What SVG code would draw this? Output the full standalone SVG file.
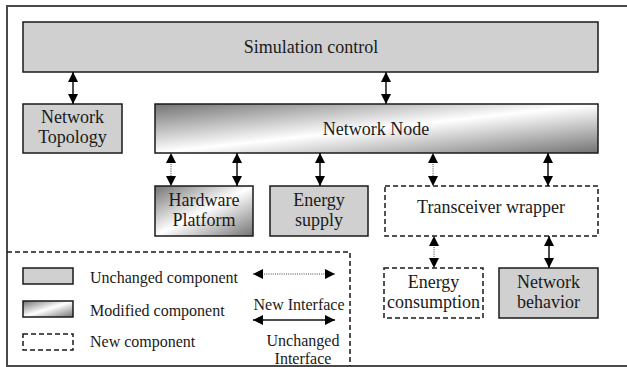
<svg xmlns="http://www.w3.org/2000/svg" width="627" height="367" viewBox="0 0 627 367">
<style>
  text { font-family: 'Liberation Serif', 'Times New Roman', 'DejaVu Serif', serif; font-size: 18px; fill: #1a1a1a; text-anchor: middle; }
  .leg { font-size: 16px; text-anchor: start; }
  .legc { font-size: 16px; }
  .unch { fill: #d0d0d0; stroke: #1a1a1a; stroke-width: 1.5; }
  .mod { fill: url(#grad); stroke: #1a1a1a; stroke-width: 1.5; }
  .newc { fill: #ffffff; stroke: #1a1a1a; stroke-width: 1.5; stroke-dasharray: 5 3; }
  .solid { stroke: #111; stroke-width: 1.5; fill: none; marker-start: url(#ah); marker-end: url(#ah); }
  .dotted { stroke: #444; stroke-width: 1; stroke-dasharray: 1 1.2; fill: none; marker-start: url(#ah); marker-end: url(#ah); }
  .frame { stroke: #4a4a4a; stroke-width: 2; fill: none; }
  .legframe { stroke: #1a1a1a; stroke-width: 1.5; fill: none; stroke-dasharray: 5 3; }
</style>
<defs>
  <linearGradient id="grad" x1="0" y1="0" x2="1" y2="1">
    <stop offset="0" stop-color="#737373"/>
    <stop offset="0.5" stop-color="#ffffff"/>
    <stop offset="1" stop-color="#737373"/>
  </linearGradient>
  <marker id="ah" viewBox="0 0 10 10" refX="10" refY="5" markerWidth="10" markerHeight="10" markerUnits="userSpaceOnUse" orient="auto-start-reverse">
    <path d="M0,0 L10,5 L0,10 Z" fill="#000"/>
  </marker>
</defs>

<!-- outer frame -->
<path class="frame" d="M7,367 L7,6 L627,6 M7,366 L627,366"/>

<g id="simulation-control">
  <rect class="unch" x="23" y="22" width="575" height="50"/>
  <text x="311" y="53" font-family="Liberation Serif, serif">Simulation control</text>
</g>
<g id="network-topology">
  <rect class="unch" x="23" y="104" width="99" height="49"/>
  <text x="72.5" y="123" font-family="Liberation Serif, serif">Network</text>
  <text x="72.5" y="143" font-family="Liberation Serif, serif">Topology</text>
</g>
<g id="network-node">
  <rect class="mod" x="155" y="104" width="443" height="49"/>
  <text x="376" y="135" font-family="Liberation Serif, serif">Network Node</text>
</g>
<g id="hardware-platform">
  <rect class="mod" x="155" y="186" width="98" height="50"/>
  <text x="204" y="206" font-family="Liberation Serif, serif">Hardware</text>
  <text x="204" y="226" font-family="Liberation Serif, serif">Platform</text>
</g>
<g id="energy-supply">
  <rect class="unch" x="270" y="186" width="98" height="50"/>
  <text x="319" y="206" font-family="Liberation Serif, serif">Energy</text>
  <text x="319" y="226" font-family="Liberation Serif, serif">supply</text>
</g>
<g id="transceiver-wrapper">
  <rect class="newc" x="385" y="186" width="213" height="50"/>
  <text x="491" y="213" font-family="Liberation Serif, serif">Transceiver wrapper</text>
</g>
<g id="energy-consumption">
  <rect class="newc" x="384" y="268" width="99" height="50"/>
  <text x="433.5" y="288" font-family="Liberation Serif, serif">Energy</text>
  <text x="433.5" y="308" font-family="Liberation Serif, serif">consumption</text>
</g>
<g id="network-behavior">
  <rect class="unch" x="499" y="268" width="99" height="50"/>
  <text x="548.5" y="288" font-family="Liberation Serif, serif">Network</text>
  <text x="548.5" y="308" font-family="Liberation Serif, serif">behavior</text>
</g>

<g id="connectors">
  <line class="solid" x1="73" y1="72" x2="73" y2="104"/>
  <line class="solid" x1="386" y1="72" x2="386" y2="104"/>
  <line class="dotted" x1="171" y1="153" x2="171" y2="186"/>
  <line class="solid" x1="237" y1="153" x2="237" y2="186"/>
  <line class="solid" x1="320" y1="153" x2="320" y2="186"/>
  <line class="dotted" x1="433" y1="153" x2="433" y2="186"/>
  <line class="solid" x1="548" y1="153" x2="548" y2="186"/>
  <line class="dotted" x1="434" y1="236" x2="434" y2="268"/>
  <line class="solid" x1="549" y1="236" x2="549" y2="268"/>
</g>

<g id="legend">
  <path class="legframe" d="M7,252 L350,252 L350,366"/>
  <rect class="unch" x="23" y="268" width="50" height="16"/>
  <text class="leg" x="90" y="283" font-family="Liberation Serif, serif">Unchanged component</text>
  <rect class="mod" x="23" y="301" width="50" height="16"/>
  <text class="leg" x="90" y="316" font-family="Liberation Serif, serif">Modified component</text>
  <rect class="newc" x="23" y="334" width="50" height="16"/>
  <text class="leg" x="90" y="347" font-family="Liberation Serif, serif">New component</text>
  <line class="dotted" x1="253" y1="274" x2="335" y2="274"/>
  <text class="legc" x="299" y="310" font-family="Liberation Serif, serif">New Interface</text>
  <line class="solid" x1="253" y1="320" x2="335" y2="320"/>
  <text class="legc" x="303" y="346" font-family="Liberation Serif, serif">Unchanged</text>
  <text class="legc" x="303" y="364" font-family="Liberation Serif, serif">Interface</text>
</g>
</svg>
